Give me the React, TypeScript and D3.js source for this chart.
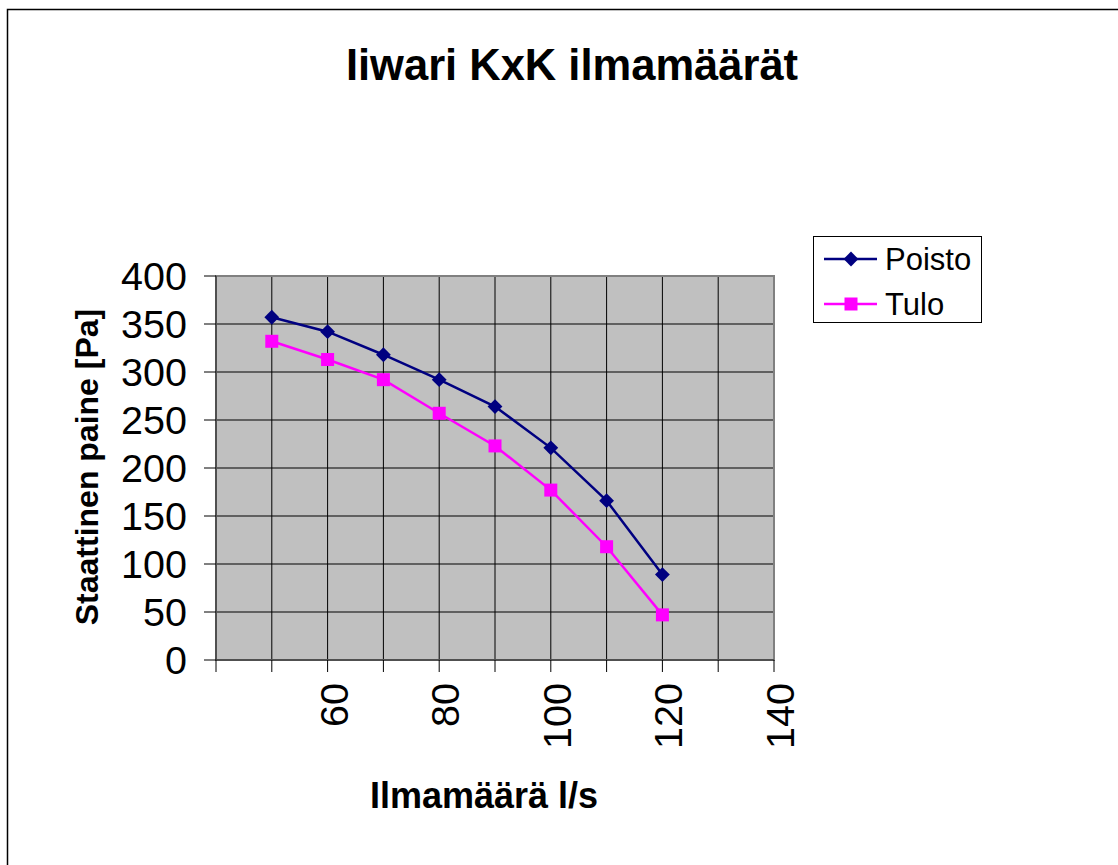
import React from "react";
import * as d3 from "d3";

const flows = [50, 60, 70, 80, 90, 100, 110, 120];
const poisto = [357, 342, 318, 292, 264, 221, 166, 89];
const tulo = [332, 313, 292, 257, 223, 177, 118, 47];
const xTickLabels = [60, 80, 100, 120, 140];
const yTicks = [0, 50, 100, 150, 200, 250, 300, 350, 400];
const xGrid = [40, 50, 60, 70, 80, 90, 100, 110, 120, 130, 140];

const W = 1118, H = 865;
const L = 216, R = 774, T = 276, B = 660;
const FONT = "Arial, 'Liberation Sans', sans-serif";

export default function App() {
  const x = d3.scaleLinear().domain([40, 140]).range([L, R]);
  const y = d3.scaleLinear().domain([0, 400]).range([B, T]);
  const line = d3.line<number>().x((_, i) => x(flows[i])).y((d) => y(d));
  const diamond = d3.symbol().type(d3.symbolDiamond2).size(140)();
  return (
    <svg width={W} height={H} style={{ position: "absolute", left: 0, top: 0 }} fontFamily={FONT}>
      <rect x={0} y={0} width={W} height={H} fill="#fff" />
      <rect x={7.5} y={9.5} width={1120} height={870} fill="none" stroke="#000" strokeWidth={1.5} />
      <text x={572} y={80} textAnchor="middle" fontSize={43.5} fontWeight="bold">Iiwari KxK ilmamäärät</text>
      <rect x={L} y={T} width={R - L} height={B - T} fill="#c0c0c0" />
      {yTicks.map((v) => (
        <line key={"gy" + v} x1={L} x2={R} y1={y(v)} y2={y(v)} stroke="#000" strokeWidth={1} />
      ))}
      {xGrid.map((v) => (
        <line key={"gx" + v} x1={x(v)} x2={x(v)} y1={T} y2={B} stroke="#000" strokeWidth={1} />
      ))}
      <rect x={L} y={T} width={R - L} height={B - T} fill="none" stroke="#808080" strokeWidth={2} />
      <line x1={L} x2={L} y1={T} y2={B} stroke="#404040" strokeWidth={1.5} />
      <line x1={L} x2={R} y1={B} y2={B} stroke="#404040" strokeWidth={1.5} />
      {yTicks.map((v) => (
        <g key={"ty" + v}>
          <line x1={L - 12} x2={L} y1={y(v)} y2={y(v)} stroke="#000" />
          <text x={187} y={y(v)} dy="0.36em" textAnchor="end" fontSize={39.5}>{v}</text>
        </g>
      ))}
      {xGrid.map((v) => (
        <line key={"tx" + v} x1={x(v)} x2={x(v)} y1={B} y2={B + 12} stroke="#000" />
      ))}
      {xTickLabels.map((v) => (
        <text key={"lx" + v} transform={`translate(${x(v) + 20},${683}) rotate(-90)`} textAnchor="end" fontSize={39.5}>{v}</text>
      ))}
      <text x={484} y={808} textAnchor="middle" fontSize={36} fontWeight="bold">Ilmamäärä l/s</text>
      <text transform={`translate(98,467) rotate(-90)`} textAnchor="middle" fontSize={32} fontWeight="bold">Staattinen paine [Pa]</text>
      <path d={line(poisto) || ""} fill="none" stroke="#000080" strokeWidth={2.5} />
      <path d={line(tulo) || ""} fill="none" stroke="#ff00ff" strokeWidth={2.5} />
      {poisto.map((v, i) => (
        <path key={"mp" + i} d={diamond || ""} transform={`translate(${x(flows[i])},${y(v)})`} fill="#000080" />
      ))}
      {tulo.map((v, i) => (
        <rect key={"mt" + i} x={x(flows[i]) - 6.5} y={y(v) - 6.5} width={13} height={13} fill="#ff00ff" />
      ))}
      <rect x={813.5} y={236.5} width={168} height={86} fill="#fff" stroke="#000" strokeWidth={1} />
      <line x1={824} x2={877} y1={259} y2={259} stroke="#000080" strokeWidth={2.5} />
      <path d={diamond || ""} transform="translate(851,259)" fill="#000080" />
      <text x={885} y={259} dy="0.36em" fontSize={31}>Poisto</text>
      <line x1={824} x2={877} y1={304} y2={304} stroke="#ff00ff" strokeWidth={2.5} />
      <rect x={844.5} y={297.5} width={13} height={13} fill="#ff00ff" />
      <text x={885} y={304} dy="0.36em" fontSize={31}>Tulo</text>
    </svg>
  );
}
